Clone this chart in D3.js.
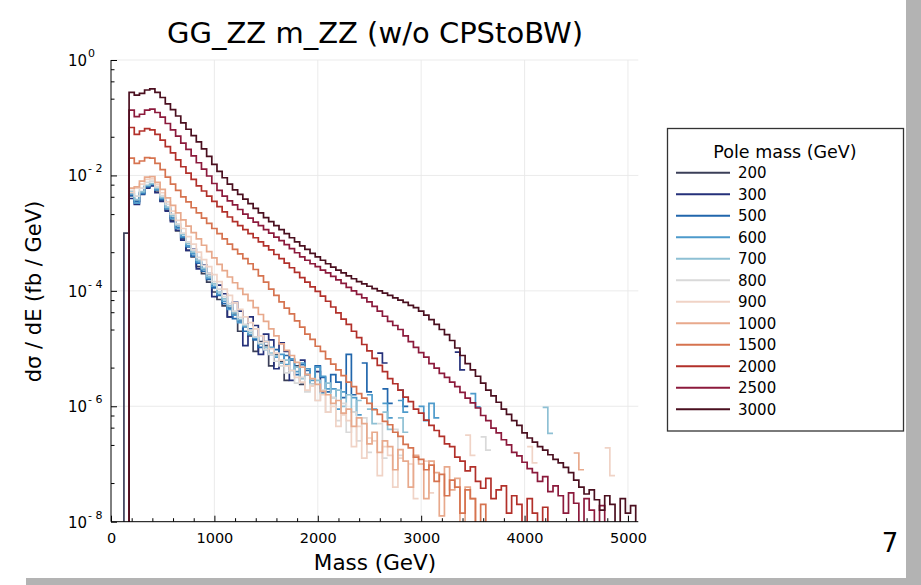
<!DOCTYPE html>
<html><head><meta charset="utf-8">
<script src="https://cdn.jsdelivr.net/npm/d3@7"></script>
<style>
body{margin:0;background:#fff;}
text{font-family:"DejaVu Sans",sans-serif;fill:#000;}
</style></head>
<body><svg id="c" width="921" height="585"></svg>
<script>
// ---------------- DATA ----------------
// Pole masses (legend entries), in drawing order
const poleMasses = [200, 300, 500, 600, 700, 800, 900, 1000, 1500, 2000, 2500, 3000];
const seriesColors = ["#3b3f58","#25307a","#2166ac","#4d9acb","#8ec0d4","#d9d9d9","#f0d3c6","#e8a98c","#d6734f","#b2302a","#8c1a3c","#4a0f1f"];
// Histogram binning (GeV): bin i covers [binStart + i*binWidth, binStart + (i+1)*binWidth)
const binStart = 125, binWidth = 50;
const xTickValues = [0, 1000, 2000, 3000, 4000, 5000];
const yTickExponents = [0, -2, -4, -6, -8];
// log10( dσ/dE  [fb/GeV] ) per bin, null = empty bin
const s200 = [-3.00,-2.35,-2.45,-2.30,-2.20,-2.17,-2.27,-2.44,-2.60,-2.78,
 -2.96,-3.10,-3.30,-3.41,-3.58,-3.70,-3.85,-4.02,-4.15,-4.26,
 -4.45,-4.40,-4.70,-4.62,-4.78,-5.05,-4.88,-4.95,-5.30,-5.10,
 -5.22,-5.55,null,-5.30,-5.62];
const s300 = [null,-2.40,-2.50,-2.33,-2.22,-2.18,-2.30,-2.45,-2.62,-2.80,
 -2.95,-3.12,-3.30,-3.28,-3.62,-3.55,-3.70,-4.10,-3.90,-4.05,
 -4.45,-4.20,-4.35,-4.95,-4.45,-4.60,-5.10,-4.75,-4.85,-5.35,
 -4.90,-5.05,-5.55,null,-5.20,-5.45,null,-5.40,-5.75,null,
 null,null,null,null,null,null,null,null,null,-5.08,
 -5.25,null,null,null,null,null,null,null,null,null,
 null,null,null,null,-5.06,-5.37];
const s500 = [null,-2.35,-2.45,-2.32,-2.20,-2.16,-2.24,-2.42,-2.56,-2.74,
 -2.90,-3.08,-3.24,-3.40,-3.52,-3.66,-3.80,-3.95,-4.08,-4.22,
 -4.30,-4.48,-4.52,-4.70,-4.66,-4.85,-4.98,-4.88,-5.10,-5.02,
 -5.25,-5.12,-5.20,-5.45,-5.28,-5.38,-5.62,-5.30,-5.50,-5.75,
 -5.45,-5.58,-5.85,-5.10,-5.80,null,-5.25,-5.75,null,null,
 -5.70,-5.95,null,-5.72,-6.00];
const s600 = [null,-2.32,-2.48,-2.30,-2.18,-2.15,-2.25,-2.40,-2.58,-2.75,
 -2.92,-3.06,-3.22,-3.36,-3.50,-3.63,-3.78,-3.92,-4.06,-4.18,
 -4.32,-4.42,-4.55,-4.62,-4.76,-4.82,-4.92,-5.02,-4.98,-5.15,
 -5.10,-5.28,-5.18,-5.40,-5.25,-5.35,-5.55,-5.32,-5.48,-5.70,
 -5.70,-6.05,-5.75,null,-5.85,-6.15,null,-5.80,-6.05,null,
 -5.95,-6.20,null,-5.90,-6.10,null,null,-6.00,-6.25,-5.95,
 -6.20,null,null,null,null,null,null,-5.78,-6.01];
const s700 = [null,-2.28,-2.42,-2.28,-2.17,-2.14,-2.22,-2.38,-2.55,-2.70,
 -2.86,-3.02,-3.18,-3.33,-3.47,-3.61,-3.75,-3.88,-4.02,-4.14,
 -4.26,-4.38,-4.50,-4.60,-4.72,-4.80,-4.92,-4.98,-5.08,-5.12,
 -5.25,-5.20,-5.38,-5.32,-5.52,-5.45,-5.62,-5.55,-5.78,-5.60,
 -5.85,-5.72,-6.00,-5.80,-6.10,-5.90,null,-6.05,-6.30,null,
 -6.10,-6.40,null,-6.20,-6.45,null,null,null,null,null,
 null,null,null,null,null,null,null,null,null,null,
 null,null,null,null,null,null,null,null,null,null,
 null,-6.02,-6.47];
const s800 = [null,-2.26,-2.36,-2.22,-2.12,-2.10,-2.20,-2.35,-2.50,-2.67,
 -2.84,-3.00,-3.15,-3.29,-3.42,-3.56,-3.70,-3.84,-3.97,-4.10,
 -4.22,-4.35,-4.46,-4.58,-4.68,-4.80,-4.90,-5.02,-5.10,-5.22,
 -5.30,-5.42,-5.38,-5.60,-5.50,-5.75,-5.62,-5.90,-5.72,-6.10,
 -5.85,-6.25,-5.95,-6.45,-6.10,-6.60,-6.20,-6.80,null,-6.30,
 -6.90,null,-6.40,-6.85,null,null,null,null,null,null,
 null,null,null,null,null,null,null,null,null,-6.53,
 -6.76];
const s900 = [null,-2.30,-2.22,-2.15,-2.07,-2.06,-2.16,-2.30,-2.46,-2.62,
 -2.78,-2.92,-3.06,-3.19,-3.33,-3.46,-3.58,-3.72,-3.84,-3.97,
 -4.08,-4.21,-4.32,-4.45,-4.55,-4.66,-4.78,-4.88,-5.00,-5.08,
 -5.20,-5.30,-5.38,-5.50,-5.58,-5.72,-5.65,-5.90,-5.80,-6.10,
 -6.00,-6.35,-6.15,-6.25,-6.70,-6.35,-6.90,-6.55,-6.60,-7.20,
 -6.70,-6.85,-7.40,-6.90,null,-7.00,-7.60,null,-6.95,-7.50,
 null,null,null,null,null,null,-6.50,-6.85,null,null,
 null,null,null,null,null,null,null,null,-6.70,-6.98,
 null,null,null,null,null,null,null,null,null,null,
 null,null,null,-6.72,-7.20];
const s1000 = [null,-2.22,-2.20,-2.10,-2.03,-2.02,-2.12,-2.24,-2.39,-2.52,
 -2.65,-2.77,-2.88,-2.99,-3.10,-3.21,-3.32,-3.43,-3.54,-3.65,
 -3.76,-3.86,-3.96,-4.06,-4.17,-4.29,-4.41,-4.53,-4.66,-4.78,
 -4.92,-5.03,-5.12,-5.24,-5.32,-5.45,-5.52,-5.62,-5.74,-5.80,
 -5.95,-5.90,-6.12,-6.05,-6.35,-6.20,-6.30,-6.65,-6.45,-6.80,
 -6.60,-6.70,-7.10,-6.75,-6.95,-7.40,-6.85,-7.00,-7.60,-6.95,
 -7.15,-7.90,-7.05,-7.45,-7.25,-8.10,-7.40,-7.60,-8.10,null,
 null,null,null,null,null,null,null,null,null,null,
 null,null,null,null,null,null,null,-6.81,-7.10];
const s1500 = [null,-1.70,-1.79,-1.75,-1.69,-1.70,-1.79,-1.90,-2.03,-2.15,
 -2.26,-2.37,-2.46,-2.56,-2.65,-2.74,-2.83,-2.92,-3.01,-3.10,
 -3.19,-3.28,-3.36,-3.44,-3.53,-3.63,-3.74,-3.85,-3.97,-4.08,
 -4.19,-4.30,-4.40,-4.52,-4.63,-4.75,-4.84,-4.96,-5.05,-5.18,
 -5.27,-5.37,-5.47,-5.58,-5.66,-5.78,-5.86,-5.95,-6.06,-6.14,
 -6.26,-6.32,-6.45,-6.52,-6.66,-6.72,-6.88,-6.92,-7.10,-7.02,
 -7.30,-7.18,-7.55,-7.28,-7.40,-7.85,-7.45,-7.60,-8.10,-7.70,
 -8.10];
const s2000 = [null,-1.17,-1.29,-1.23,-1.19,-1.21,-1.29,-1.39,-1.50,-1.61,
 -1.73,-1.85,-1.96,-2.07,-2.18,-2.27,-2.36,-2.45,-2.54,-2.63,
 -2.72,-2.80,-2.87,-2.94,-3.01,-3.08,-3.15,-3.22,-3.29,-3.37,
 -3.44,-3.52,-3.60,-3.68,-3.77,-3.85,-3.93,-4.01,-4.09,-4.18,
 -4.28,-4.38,-4.49,-4.58,-4.70,-4.81,-4.93,-5.04,-5.17,-5.29,
 -5.40,-5.52,-5.61,-5.72,-5.84,-5.92,-6.05,-6.12,-6.24,-6.33,
 -6.42,-6.52,-6.65,-6.70,-6.88,-6.95,-7.12,-7.05,-7.30,-7.42,
 -7.25,-7.60,-7.45,-7.38,-7.85,-7.55,-7.70,-8.10,-7.60,-7.85,
 -8.10,-7.75,-8.10];
const s2500 = [null,-0.87,-0.98,-0.94,-0.87,-0.85,-0.91,-0.99,-1.10,-1.21,
 -1.32,-1.44,-1.55,-1.66,-1.78,-1.89,-2.01,-2.14,-2.26,-2.36,
 -2.44,-2.51,-2.59,-2.67,-2.74,-2.81,-2.87,-2.94,-3.00,-3.07,
 -3.13,-3.20,-3.27,-3.34,-3.41,-3.47,-3.53,-3.58,-3.64,-3.69,
 -3.75,-3.81,-3.87,-3.94,-4.00,-4.06,-4.12,-4.19,-4.27,-4.35,
 -4.44,-4.53,-4.60,-4.67,-4.78,-4.88,-4.98,-5.07,-5.15,-5.26,
 -5.34,-5.43,-5.50,-5.58,-5.66,-5.76,-5.86,-5.94,-6.03,-6.16,
 -6.25,-6.38,-6.46,-6.58,-6.67,-6.80,-6.86,-6.97,-7.08,-7.15,
 -7.30,-7.22,-7.48,-7.38,-7.55,-7.85,-7.50,-7.68,-8.10,-7.60,
 -7.80,-8.10,-7.72,-8.10];
const s3000 = [null,-0.56,-0.61,-0.58,-0.52,-0.50,-0.56,-0.65,-0.76,-0.86,
 -0.97,-1.09,-1.20,-1.31,-1.42,-1.54,-1.67,-1.81,-1.93,-2.04,
 -2.15,-2.25,-2.33,-2.41,-2.49,-2.57,-2.65,-2.73,-2.80,-2.87,
 -2.94,-3.01,-3.08,-3.15,-3.22,-3.28,-3.35,-3.41,-3.47,-3.53,
 -3.59,-3.64,-3.69,-3.74,-3.79,-3.84,-3.88,-3.92,-3.96,-4.00,
 -4.04,-4.08,-4.12,-4.16,-4.20,-4.25,-4.29,-4.35,-4.42,-4.50,
 -4.58,-4.67,-4.76,-4.86,-4.99,-5.12,-5.26,-5.37,-5.48,-5.60,
 -5.72,-5.82,-5.93,-6.05,-6.14,-6.25,-6.33,-6.46,-6.55,-6.62,
 -6.70,-6.76,-6.84,-6.92,-6.98,-7.06,-7.15,-7.28,-7.40,-7.52,
 -7.45,-7.62,-7.80,-7.55,-7.70,-8.10,-7.60,-7.85,-7.72,-8.10];
const seriesValues = [s200,s300,s500,s600,s700,s800,s900,s1000,s1500,s2000,s2500,s3000];

// ---------------- CHART ----------------
const svg = d3.select("#c");
svg.append("rect").attr("width",921).attr("height",585).attr("fill","#fff");

const x = d3.scaleLinear().domain([0, 5100]).range([111, 638.3]);
const y = d3.scaleLog().domain([1e-8, 1]).range([521.7, 60]);
const [xl, xr] = x.range(), [yb, yt] = y.range();

// grid
const grid = svg.append("g").attr("stroke","#e9e9e9").attr("stroke-width",0.9);
xTickValues.filter(v=>v>0).forEach(v=>grid.append("line")
  .attr("x1",x(v)).attr("x2",x(v)).attr("y1",yt).attr("y2",yb));
yTickExponents.filter(e=>e>-8).forEach(e=>grid.append("line")
  .attr("x1",xl).attr("x2",xr).attr("y1",y(Math.pow(10,e))).attr("y2",y(Math.pow(10,e))));

// series
svg.append("clipPath").attr("id","clip").append("rect")
  .attr("x",xl).attr("y",yt-5).attr("width",xr-xl+1).attr("height",yb-yt+5);
const line = d3.line().defined(d=>d!==null).x(d=>x(d[0])).y(d=>y(d[1]));
function stepPoints(vals){
  const pts=[]; let started=false;
  vals.forEach((v,i)=>{
    const x0=binStart+i*binWidth, x1=x0+binWidth;
    if(v==null){ if(pts.length && pts[pts.length-1]!==null) pts.push(null); return; }
    const val=Math.pow(10,v);
    if(!started){ pts.push([x0,1e-9]); started=true; }
    pts.push([x0,val]); pts.push([x1,val]);
  });
  return pts;
}
const gs = svg.append("g").attr("clip-path","url(#clip)");
seriesValues.forEach((vals,k)=>{
  gs.append("path").attr("d",line(stepPoints(vals)))
    .attr("fill","none").attr("stroke",seriesColors[k]).attr("stroke-width",1.7)
    .attr("stroke-linejoin","miter");
});

// axes
const ax = svg.append("g").attr("transform",`translate(0,${yb})`)
  .call(d3.axisBottom(x).tickValues(xTickValues).tickSizeInner(-6).tickSizeOuter(0).tickPadding(11).tickFormat(d3.format("d")));
const minorX = d3.range(200,5100,200).filter(v=>v%1000!==0);
svg.append("g").attr("transform",`translate(0,${yb})`)
  .call(d3.axisBottom(x).tickValues(minorX).tickSizeInner(-3.5).tickSizeOuter(0).tickFormat(""))
  .select(".domain").remove();
ax.select(".domain").attr("d",`M${xl},0H${xr}`);
ax.selectAll("text").attr("font-size","14.5px").attr("font-family","DejaVu Sans").attr("fill","#000");

const yMajor = yTickExponents.map(e=>Math.pow(10,e));
const ay = svg.append("g").attr("transform",`translate(${xl},0)`)
  .call(d3.axisLeft(y).tickValues(yMajor).tickSizeInner(-6).tickSizeOuter(0).tickFormat(""));
ay.select(".domain").attr("d",`M0,${yt}V${yb}`);
const minorOff = [0.16,0.37,0.67,1.33];
const yMinor = [];
yTickExponents.filter(e=>e>-8).forEach(e=>minorOff.forEach(o=>yMinor.push(Math.pow(10,e-o))));
svg.append("g").attr("transform",`translate(${xl},0)`)
  .call(d3.axisLeft(y).tickValues(yMinor).tickSizeInner(-3.5).tickSizeOuter(0).tickFormat(""))
  .select(".domain").remove();
svg.selectAll(".tick line").attr("stroke","#000");
svg.selectAll(".domain").attr("stroke","#000");

// y tick labels 10^e
yTickExponents.forEach(e=>{
  const yy = y(Math.pow(10,e));
  svg.append("text").attr("x",87).attr("y",yy+6).attr("text-anchor","end")
    .attr("font-size","15px").text("10");
  svg.append("text").attr("x",88).attr("y",yy-3).attr("font-size","11px")
    .text(e===0 ? "0" : "- " + (-e));
});

// titles
svg.append("text").attr("x",375).attr("y",43).attr("text-anchor","middle")
  .attr("font-size","29px").text("GG_ZZ m_ZZ (w/o CPStoBW)");
svg.append("text").attr("x",375).attr("y",570).attr("text-anchor","middle")
  .attr("font-size","21.5px").text("Mass (GeV)");
svg.append("text").attr("transform","translate(41,291.5) rotate(-90)").attr("text-anchor","middle")
  .attr("font-size","21px").text("dσ / dE (fb / GeV)");

// legend
const lg = svg.append("g");
lg.append("rect").attr("x",667.5).attr("y",128.5).attr("width",236).attr("height",302.5)
  .attr("fill","#fff").attr("stroke","#333").attr("stroke-width",1.3);
lg.append("text").attr("x",785).attr("y",158).attr("text-anchor","middle")
  .attr("font-size","17.5px").text("Pole mass (GeV)");
poleMasses.forEach((m,i)=>{
  const yy = 172.7 + 21.5*i;
  lg.append("line").attr("x1",676).attr("x2",730).attr("y1",yy).attr("y2",yy)
    .attr("stroke",seriesColors[i]).attr("stroke-width",2);
  lg.append("text").attr("x",738).attr("y",yy+5.5).attr("font-size","15px").text(m);
});

// slide decorations
svg.append("text").attr("x",890).attr("y",552).attr("text-anchor","middle").attr("font-size","26px").text("7");
svg.append("rect").attr("x",906).attr("y",0).attr("width",15).attr("height",585).attr("fill","#b3b3b3");
svg.append("rect").attr("x",26).attr("y",578).attr("width",895).attr("height",7).attr("fill","#b3b3b3");
</script></body></html>
